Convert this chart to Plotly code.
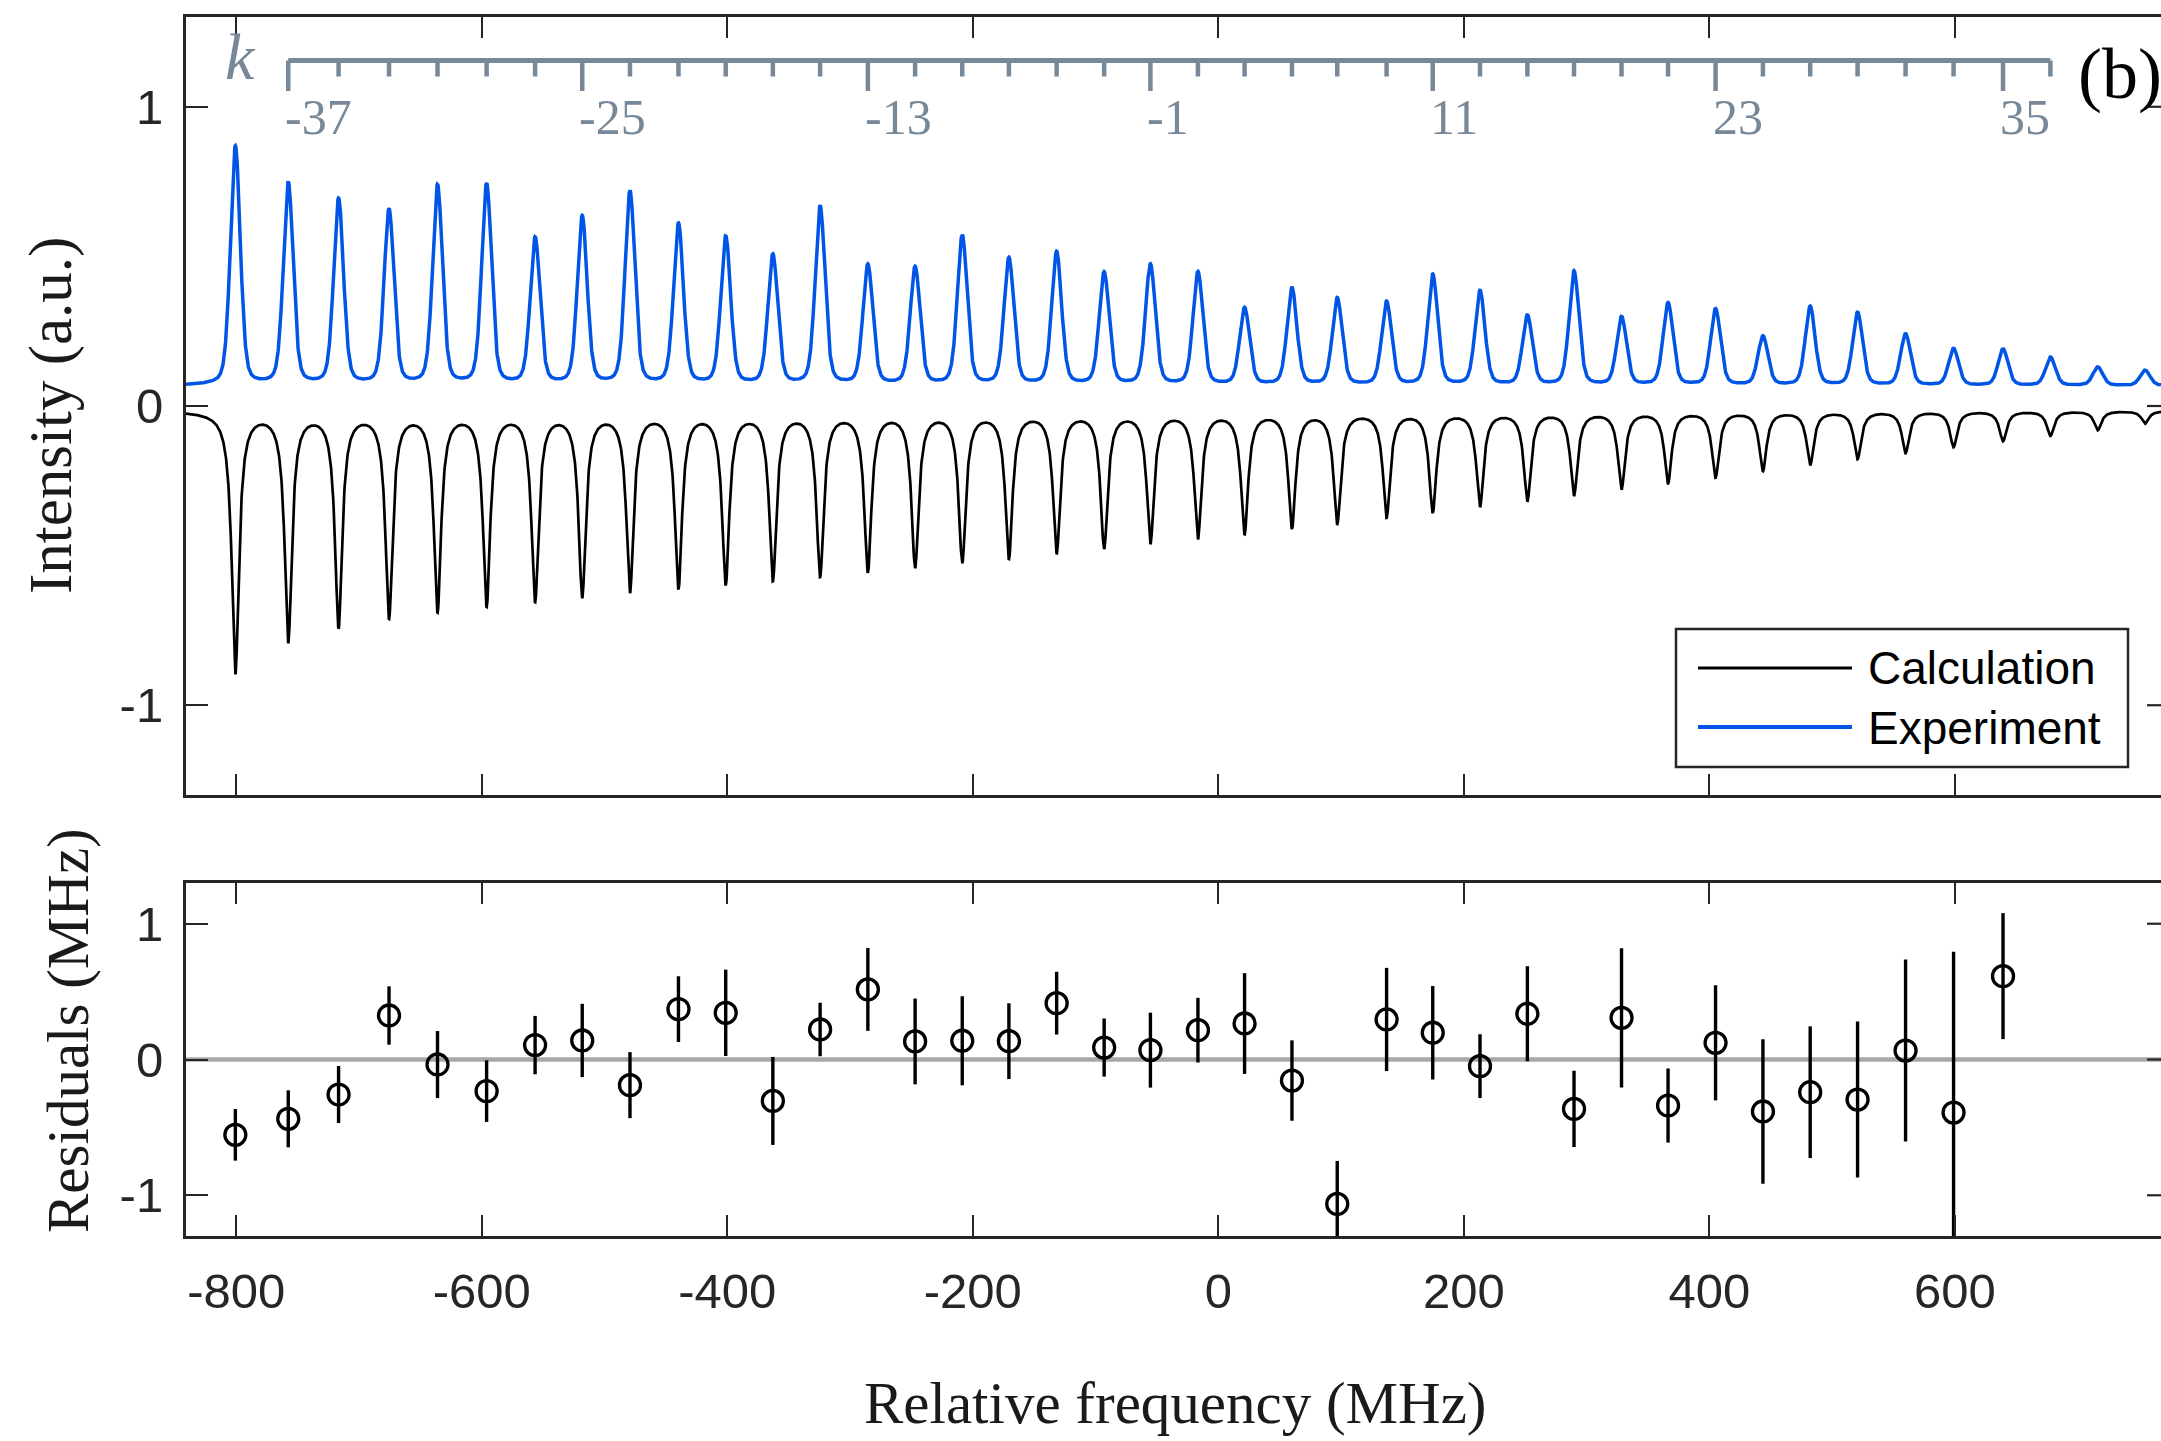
import numpy as np
import plotly.graph_objects as go

# ---------------- data ----------------
# transition index k (odd numbers) and the fitted line positions in MHz
k_index = list(range(-39, 42, 2))
peak_freq = [-800.8, -757.7, -716.7, -675.6, -636.1, -596.1, -556.6, -518.2, -479.3, -439.8,
             -401.3, -362.9, -324.4, -285.5, -247.0, -208.6, -170.6, -131.7, -93.0, -55.3,
             -16.6, 21.4, 60.0, 96.9, 137.1, 174.7, 213.2, 251.8, 289.8, 328.5,
             366.4, 405.1, 443.7, 482.2, 520.8, 559.9, 599.0, 639.3, 677.9, 716.5, 755.0]
# experimental peak maxima (a.u.)
exp_height = [0.870, 0.750, 0.695, 0.660, 0.741, 0.745, 0.566, 0.637, 0.720, 0.612,
              0.569, 0.509, 0.670, 0.475, 0.467, 0.572, 0.497, 0.517, 0.449, 0.475,
              0.450, 0.330, 0.396, 0.363, 0.351, 0.441, 0.387, 0.305, 0.452, 0.300,
              0.346, 0.326, 0.235, 0.334, 0.314, 0.242, 0.193, 0.191, 0.164, 0.131, 0.120]
# calculated spectrum minima (plotted inverted, a.u.)
calc_depth = [-0.897, -0.793, -0.744, -0.712, -0.691, -0.672, -0.656, -0.642, -0.626, -0.613,
              -0.599, -0.586, -0.572, -0.557, -0.542, -0.526, -0.512, -0.495, -0.478, -0.462,
              -0.446, -0.429, -0.411, -0.395, -0.374, -0.357, -0.338, -0.319, -0.300, -0.279,
              -0.259, -0.240, -0.218, -0.198, -0.178, -0.158, -0.138, -0.118, -0.100, -0.081, -0.059]
# fit residuals (MHz) for k = -39 ... 35
residual = [-0.555, -0.437, -0.258, 0.324, -0.037, -0.233, 0.106, 0.140, -0.189, 0.371,
            0.344, -0.305, 0.221, 0.516, 0.133, 0.138, 0.135, 0.415, 0.088, 0.069,
            0.216, 0.265, -0.155, -1.064, 0.295, 0.197, -0.049, 0.337, -0.364, 0.307,
            -0.339, 0.123, -0.383, -0.241, -0.295, 0.066, -0.391, 0.614]
residual_err = [0.190, 0.210, 0.210, 0.215, 0.247, 0.227, 0.215, 0.270, 0.243, 0.242,
                0.318, 0.324, 0.197, 0.305, 0.316, 0.328, 0.279, 0.231, 0.214, 0.276,
                0.238, 0.371, 0.296, 0.317, 0.380, 0.344, 0.235, 0.350, 0.281, 0.513,
                0.273, 0.424, 0.532, 0.485, 0.574, 0.670, 1.184, 0.464]
k_axis_min, k_axis_max = -37, 37
k_label_vals = [-37, -25, -13, -1, 11, 23, 35]
x_tick_vals = [-800, -600, -400, -200, 0, 200, 400, 600, 800]
x_tick_text = ['-800', '-600', '-400', '-200', '0', '200', '400', '600', '800']
y_tick_vals = [-1, 0, 1]
y_tick_text = ['-1', '0', '1']

# ---------------- line shapes built from the read peak parameters ----------------
f = np.array(peak_freq)
x = np.linspace(-841, 768, 6437)


def lor(d, g):
    return g * g / (d * d + g * g)


def pvoigt(d, fwhm, eta):
    s = fwhm / 2.3548
    return eta * lor(d, fwhm / 2) + (1 - eta) * np.exp(-0.5 * (d / s) ** 2)


# calculation: inverted Lorentzians on a small offset
g_c, off_c = 3.5, -0.016
Lc = lor(f[:, None] - f[None, :], g_c)
tc = off_c - np.array(calc_depth)
A = tc.copy()
for _ in range(60):
    A += tc - Lc @ A
calc_y = off_c - (A[:, None] * lor(x[None, :] - f[:, None], g_c)).sum(0)

# experiment: pseudo-Voigt peaks on a flat background
fw_e, eta_e, b_e = 9.5, 0.3, 0.068
Le = pvoigt(f[:, None] - f[None, :], fw_e, eta_e)
te = np.array(exp_height) - b_e
Hh = te.copy()
for _ in range(60):
    Hh += te - Le @ Hh
exp_y = b_e + (Hh[:, None] * pvoigt(x[None, :] - f[:, None], fw_e, eta_e)).sum(0)

# ---------------- layout geometry ----------------
W, H = 2161, 1441
ML, MR, MT, MB = 186, 0, 17, 205
PW, PH = W - ML - MR, H - MT - MB


def px(p):
    return (p - ML) / PW


def py(p):
    return (H - MB - p) / PH


def vy(p):  # pixel row -> data value in the top panel
    return 1.3 - (p - 17) / ((795 - 17) / 2.6)


AX = '#262626'
BLUE = '#0055E6'
GRAY_K = '#778899'
SANS = 'Liberation Sans'
SERIF = 'Liberation Serif'

fig = go.Figure()

fig.add_trace(go.Scatter(x=x, y=exp_y, mode='lines', line=dict(color=BLUE, width=3.5),
                         xaxis='x', yaxis='y', showlegend=False, hoverinfo='skip'))
fig.add_trace(go.Scatter(x=x, y=calc_y, mode='lines', line=dict(color='black', width=2.7),
                         xaxis='x', yaxis='y', showlegend=False, hoverinfo='skip'))

# k axis drawn in the top panel
kf = {k: fr for k, fr in zip(k_index, peak_freq)}
k_ticks = [k for k in k_index if k_axis_min <= k <= k_axis_max]
y_line, y_minor, y_major, y_lab = vy(60.5), vy(76.5), vy(91), vy(117)
fig.add_trace(go.Scatter(x=[kf[k_axis_min], kf[k_axis_max]], y=[y_line, y_line], mode='lines',
                         line=dict(color=GRAY_K, width=5), xaxis='x', yaxis='y',
                         showlegend=False, hoverinfo='skip'))
tx, ty = [], []
for k in k_ticks:
    tx += [kf[k], kf[k], None]
    ty += [y_line, y_major if k in k_label_vals else y_minor, None]
fig.add_trace(go.Scatter(x=tx, y=ty, mode='lines', line=dict(color=GRAY_K, width=4.5),
                         xaxis='x', yaxis='y', showlegend=False, hoverinfo='skip'))

# residuals
res_x = peak_freq[:len(residual)]
fig.add_trace(go.Scatter(x=res_x, y=residual, mode='markers', xaxis='x2', yaxis='y2',
                         marker=dict(symbol='circle-open', size=21, color='black',
                                     line=dict(width=3.3, color='black')),
                         error_y=dict(type='data', array=residual_err, visible=True,
                                      thickness=3.4, width=0, color='black'),
                         showlegend=False, hoverinfo='skip'))

axis_common = dict(showgrid=False, zeroline=False, ticks='inside', tickwidth=2.2,
                   tickcolor=AX, showline=True, linecolor=AX, linewidth=3,
                   tickfont=dict(family=SANS, size=49, color=AX))
xaxis_common = dict(axis_common, range=[-841, 768], tickmode='array', tickvals=x_tick_vals,
                    ticktext=x_tick_text, ticklen=21, mirror='ticks')
yaxis_common = dict(axis_common, range=[-1.3, 1.3], tickmode='array', tickvals=y_tick_vals,
                    ticktext=y_tick_text, ticklen=22, mirror=False, ticklabelstandoff=10)

top_dom = [py(795), 1.0]
bot_dom = [0.0, py(883)]

shapes = []
# right-hand ticks (the right border falls just outside the picture)
for yref in ['y', 'y2']:
    for v in y_tick_vals:
        shapes.append(dict(type='line', xref='paper', yref=yref, x0=px(2147), x1=1.0,
                           y0=v, y1=v, line=dict(color=AX, width=2.2)))
# zero line in residual panel
shapes.append(dict(type='line', xref='paper', yref='y2', x0=0, x1=1, y0=0, y1=0,
                   line=dict(color='#A8A8A8', width=4.5), layer='below'))
# legend box
shapes.append(dict(type='rect', xref='paper', yref='paper', x0=px(1676), x1=px(2128),
                   y0=py(767), y1=py(629), line=dict(color=AX, width=2.5), fillcolor='white',
                   layer='above'))
shapes.append(dict(type='line', xref='paper', yref='paper', x0=px(1698), x1=px(1852),
                   y0=py(668), y1=py(668), line=dict(color='black', width=3), layer='above'))
shapes.append(dict(type='line', xref='paper', yref='paper', x0=px(1698), x1=px(1852),
                   y0=py(727), y1=py(727), line=dict(color=BLUE, width=4), layer='above'))

ann = []
for k in k_label_vals:
    ann.append(dict(x=kf[k], y=y_lab, xref='x', yref='y', text=str(k), showarrow=False,
                    xanchor='left', yanchor='middle', xshift=-5,
                    font=dict(family=SERIF, size=50, color=GRAY_K)))
ann.append(dict(x=px(240), y=py(56), xref='paper', yref='paper', text='<i>k</i>',
                showarrow=False, xanchor='center', yanchor='middle',
                font=dict(family=SERIF, size=66, color=GRAY_K)))
ann.append(dict(x=px(2076), y=py(74), xref='paper', yref='paper', text='(b)', showarrow=False,
                xanchor='left', yanchor='middle', font=dict(family=SERIF, size=72, color='black')))
ann.append(dict(x=px(1866), y=py(668), xref='paper', yref='paper', text='Calculation',
                showarrow=False, xanchor='left', yanchor='middle',
                font=dict(family=SANS, size=46, color='black')))
ann.append(dict(x=px(1866), y=py(728), xref='paper', yref='paper', text='Experiment',
                showarrow=False, xanchor='left', yanchor='middle',
                font=dict(family=SANS, size=46, color='black')))
ann.append(dict(x=px(51), y=py(416), xref='paper', yref='paper', text='Intensity (a.u.)',
                textangle=-90, showarrow=False, xanchor='center', yanchor='middle',
                font=dict(family=SERIF, size=61, color='#1a1a1a')))
ann.append(dict(x=px(68), y=py(1031), xref='paper', yref='paper', text='Residuals (MHz)',
                textangle=-90, showarrow=False, xanchor='center', yanchor='middle',
                font=dict(family=SERIF, size=59, color='#1a1a1a')))
ann.append(dict(x=px(1175), y=py(1403), xref='paper', yref='paper',
                text='Relative frequency (MHz)', showarrow=False, xanchor='center',
                yanchor='middle', font=dict(family=SERIF, size=59, color='#1a1a1a')))

fig.update_layout(
    width=W, height=H, autosize=False,
    margin=dict(l=ML, r=MR, t=MT, b=MB, pad=0),
    paper_bgcolor='white', plot_bgcolor='white',
    showlegend=False,
    xaxis=dict(xaxis_common, anchor='y', domain=[0, 1], showticklabels=False),
    yaxis=dict(yaxis_common, anchor='x', domain=top_dom),
    xaxis2=dict(xaxis_common, anchor='y2', domain=[0, 1], showticklabels=True,
                ticklabelstandoff=10),
    yaxis2=dict(yaxis_common, anchor='x2', domain=bot_dom),
    shapes=shapes, annotations=ann,
)

fig.write_html('out.html')
